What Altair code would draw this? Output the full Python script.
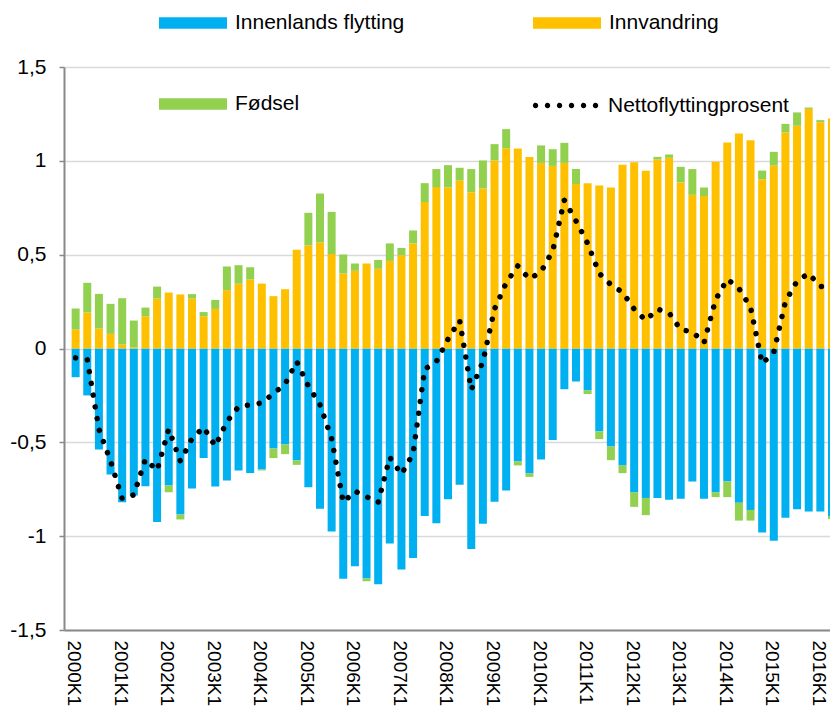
import json
import altair as alt
import pandas as pd

# Quarter categories 2000K1 .. 2016K2
quarters = [f"{2000 + i // 4}K{i % 4 + 1}" for i in range(66)]

series_names = ["Innenlands flytting", "Innvandring", "Fødsel"]
series_colors = ["#00B0F0", "#FFC000", "#92D050"]
legend_order = ["Innenlands flytting", "Fødsel", "Innvandring"]
legend_colors = ["#00B0F0", "#92D050", "#FFC000"]
line_name = "Nettoflyttingprosent"

innenlands = [-0.153, -0.250, -0.538, -0.671, -0.819, -0.783, -0.734, -0.925, -0.730, -0.885,
              -0.746, -0.584, -0.735, -0.703, -0.650, -0.664, -0.645, -0.533, -0.512, -0.597,
              -0.739, -0.854, -0.975, -1.227, -1.160, -1.226, -1.256, -1.039, -1.178, -1.117,
              -0.892, -0.931, -0.803, -0.726, -1.069, -0.934, -0.817, -0.757, -0.602, -0.666,
              -0.591, -0.487, -0.217, -0.176, -0.224, -0.442, -0.522, -0.623, -0.767, -0.796,
              -0.796, -0.806, -0.801, -0.709, -0.801, -0.767, -0.709, -0.822, -0.860, -0.980,
              -1.025, -0.902, -0.856, -0.869, -0.869, -0.895]

innvandring = [0.101, 0.192, 0.107, 0.078, 0.021, 0.007, 0.172, 0.266, 0.298, 0.288,
               0.266, 0.172, 0.211, 0.311, 0.345, 0.368, 0.346, 0.279, 0.316, 0.526,
               0.549, 0.565, 0.503, 0.400, 0.414, 0.453, 0.425, 0.467, 0.497, 0.560,
               0.780, 0.860, 0.858, 0.895, 0.833, 0.853, 1.002, 1.067, 1.066, 1.021,
               0.989, 0.973, 0.989, 0.877, 0.881, 0.869, 0.858, 0.979, 0.993, 0.947,
               1.007, 1.016, 0.885, 0.819, 0.812, 0.995, 1.098, 1.146, 1.110, 0.902,
               0.975, 1.151, 1.187, 1.277, 1.206, 1.226]

fodsel = [0.112, 0.158, 0.184, 0.160, 0.247, 0.142, 0.046, 0.064, -0.036, -0.026,
          0.024, 0.022, 0.048, 0.126, 0.099, 0.065, -0.005, -0.051, -0.051, -0.023,
          0.174, 0.261, 0.225, 0.101, 0.039, -0.014, 0.047, 0.093, 0.039, 0.069,
          0.101, 0.096, 0.119, 0.068, 0.123, 0.149, 0.087, 0.102, -0.021, -0.018,
          0.093, 0.089, 0.107, 0.079, -0.019, -0.041, -0.073, -0.041, -0.077, -0.092,
          0.014, 0.018, 0.083, 0.137, 0.046, -0.025, -0.083, -0.095, -0.057, 0.046,
          0.073, 0.046, 0.071, 0.007, 0.011, -0.014]

netto = [-0.05, -0.06, -0.43, -0.60, -0.80, -0.78, -0.59, -0.65, -0.43, -0.60,
         -0.48, -0.42, -0.52, -0.39, -0.31, -0.30, -0.29, -0.24, -0.19, -0.07,
         -0.20, -0.30, -0.48, -0.82, -0.76, -0.79, -0.82, -0.58, -0.67, -0.56,
         -0.11, -0.07, 0.05, 0.15, -0.22, -0.07, 0.21, 0.35, 0.44, 0.37,
         0.41, 0.52, 0.79, 0.68, 0.56, 0.40, 0.34, 0.30, 0.21, 0.15,
         0.21, 0.19, 0.10, 0.09, 0.03, 0.26, 0.37, 0.32, 0.22, -0.08,
         -0.02, 0.25, 0.36, 0.40, 0.33, 0.33]

rows = []
for i, q in enumerate(quarters):
    for k, (name, vals) in enumerate(zip(series_names, [innenlands, innvandring, fodsel])):
        rows.append({"idx": i, "kvartal": q, "serie": name, "value": vals[i], "ord": k})
df_bars = pd.DataFrame(rows)
df_line = pd.DataFrame({"idx": list(range(len(quarters))), "kvartal": quarters,
                        "netto": netto, "name": line_name})

FONT = "Liberation Sans"
x_scale = alt.Scale(domain=[-0.57, 64.40], nice=False, zero=False)
tick_vals = list(range(0, len(quarters), 4))
x_label_expr = f"{json.dumps(quarters)}[datum.value]"
y_label_expr = "(datum.value < 0 ? '-' : '') + replace('' + abs(datum.value), '.', ',')"

x_axis = alt.Axis(values=tick_vals, labelExpr=x_label_expr, labelAngle=90, labelAlign="left",
                  labelBaseline="middle", ticks=False, labelPadding=10, grid=False,
                  domainColor="#898989", domainWidth=2, labelFont=FONT, labelFontSize=19,
                  labelColor="black", title=None, labelOverlap=False, labelOffset=-2)
y_axis = alt.Axis(values=[-1.5, -1, -0.5, 0, 0.5, 1, 1.5], labelExpr=y_label_expr,
                  grid=True, gridColor="#d9d9d9", gridWidth=1.5, domainColor="#898989",
                  domainWidth=2, tickColor="#898989", tickSize=5, tickWidth=1.5,
                  labelPadding=13, labelFont=FONT, labelFontSize=21, labelColor="black",
                  title=None)

bars = alt.Chart(df_bars).mark_bar(size=8).encode(
    x=alt.X("idx:Q", scale=x_scale, axis=x_axis),
    y=alt.Y("value:Q", stack="zero", scale=alt.Scale(domain=[-1.5, 1.5], nice=False), axis=y_axis),
    fill=alt.Fill("serie:N", scale=alt.Scale(domain=legend_order, range=legend_colors),
                  legend=alt.Legend(title=None, orient="none", legendX=95, legendY=-78,
                                    columns=2, columnPadding=128, rowPadding=37,
                                    symbolType="M-1,-0.17H1V0.17H-1Z", symbolSize=4624,
                                    symbolStrokeWidth=0, labelFont=FONT, labelFontSize=21,
                                    labelColor="black", labelOffset=8, padding=0,
                                    labelLimit=400)),
    order=alt.Order("ord:Q"),
)

r = 0.045
dots_path = "".join(
    f"M{cx - r:.3f},0a{r},{r} 0 1,0 {2 * r},0a{r},{r} 0 1,0 {-2 * r},0"
    for cx in [-1, -0.6, -0.2, 0.2, 0.6, 1.0]
)

line = alt.Chart(df_line).mark_line(strokeWidth=5.5, strokeCap="round", strokeDash=[0.01, 11.9]).encode(
    x=alt.X("idx:Q", scale=x_scale),
    y=alt.Y("netto:Q"),
    stroke=alt.Stroke("name:N", scale=alt.Scale(domain=[line_name], range=["black"]),
                      legend=alt.Legend(title=None, orient="none", legendX=470, legendY=7,
                                        symbolType=dots_path, symbolSize=3600,
                                        symbolStrokeWidth=2.7, symbolDash=[1, 0],
                                        symbolFillColor="black", symbolStrokeColor="black",
                                        labelFont=FONT, labelFontSize=21, labelColor="black",
                                        labelOffset=11, padding=0, labelLimit=400)),
)

chart = alt.layer(bars, line).resolve_scale(fill="independent", stroke="independent").properties(
    width=766, height=563,
    autosize=alt.AutoSizeParams(type="none"),
    padding={"left": 56, "top": 59, "right": 0, "bottom": 76},
).configure_view(stroke=None)

chart.save("out.html", embed_options={"renderer": "svg", "actions": False})
